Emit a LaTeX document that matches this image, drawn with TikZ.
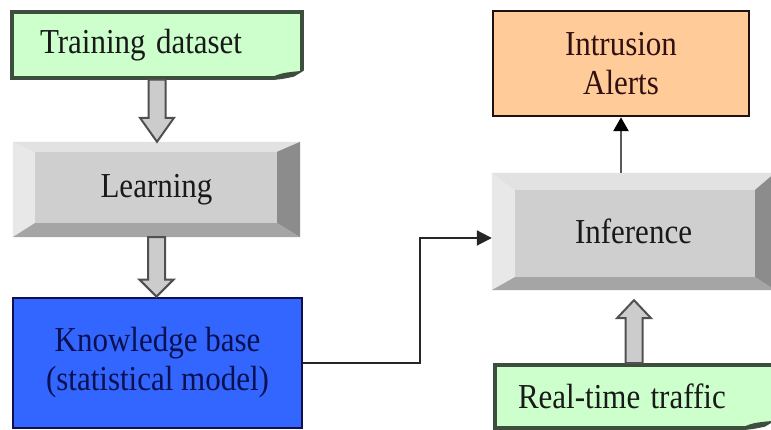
\documentclass[tikz,border=0pt]{standalone}
\usepackage{fontspec}
\usepackage{graphicx}
\setmainfont{Liberation Serif}
\usetikzlibrary{arrows.meta,calc}
\definecolor{docfill}{HTML}{CCFFCC}
\definecolor{docline}{HTML}{3E4E3E}
\definecolor{kbfill}{HTML}{3366FF}
\definecolor{kbline}{HTML}{101050}
\definecolor{kbtext}{HTML}{0A1050}
\definecolor{alfill}{HTML}{FFCC99}
\definecolor{alline}{HTML}{201010}
\definecolor{altext}{HTML}{301010}
\definecolor{face}{HTML}{CFCFCF}
\definecolor{bvtop}{HTML}{E2E2E2}
\definecolor{bvleft}{HTML}{E8E8E8}
\definecolor{bvright}{HTML}{8C8C8C}
\definecolor{bvbot}{HTML}{A5A5A5}
\definecolor{arrfill}{HTML}{CCCCCC}
\definecolor{arrline}{HTML}{505050}
\newcommand\tall[1]{\scalebox{1}[1.13]{#1}}
\newcommand\mybevel[5]{%
 \fill[bvtop] (#1.north west) -- (#1.north east) -- ($(#1.north east)+(-#3pt,-#4pt)$) -- ($(#1.north west)+(#2pt,-#4pt)$) -- cycle;
 \fill[bvleft] (#1.north west) -- (#1.south west) -- ($(#1.south west)+(#2pt,#5pt)$) -- ($(#1.north west)+(#2pt,-#4pt)$) -- cycle;
 \fill[bvright] (#1.north east) -- (#1.south east) -- ($(#1.south east)+(-#3pt,#5pt)$) -- ($(#1.north east)+(-#3pt,-#4pt)$) -- cycle;
 \fill[bvbot] (#1.south west) -- (#1.south east) -- ($(#1.south east)+(-#3pt,#5pt)$) -- ($(#1.south west)+(#2pt,#5pt)$) -- cycle;
}
\newcommand\blockarrow[3]{%
 \draw[blockarr] let \p1=(#1), \p2=(#2) in
  (\x1-8.5pt,\y1) -- (\x1-8.5pt,\y2+#3pt) -- (\x1-17pt,\y2+#3pt) -- (\x1,\y2)
  -- (\x1+17pt,\y2+#3pt) -- (\x1+8.5pt,\y2+#3pt) -- (\x1+8.5pt,\y1) -- cycle;
}
\newcommand\curl[1]{%
 \fill[white] ($(#1.south east)+(-38pt,-3pt)$) -- ($(#1.south east)+(3pt,-3pt)$) -- ($(#1.south east)+(3pt,10pt)$) -- cycle;
 \fill[docline] ($(#1.south east)+(-38pt,0pt)$) .. controls ($(#1.south east)+(-22pt,7pt)$) .. ($(#1.south east)+(0pt,9pt)$)
   -- ($(#1.south east)+(-10pt,3pt)$) .. controls ($(#1.south east)+(-25pt,0pt)$) .. ($(#1.south east)+(-38pt,0pt)$) -- cycle;
}
\begin{document}
\begin{tikzpicture}[x=1pt,y=1pt,
  txt/.style={font=\fontsize{31}{39}\selectfont},
  doc/.style={txt, fill=docfill, draw=docline, line width=3.5pt, align=left, inner ysep=0pt, text=black!90},
  bevelbox/.style={txt, fill=face, inner sep=0pt, text=black!90},
  kbbox/.style={txt, fill=kbfill, draw=kbline, line width=2.8pt, align=center, text=kbtext, inner sep=0pt},
  albox/.style={txt, fill=alfill, draw=alline, line width=2.5pt, align=center, text=altext, inner sep=0pt},
  blockarr/.style={fill=arrfill, draw=arrline, line width=2pt, line join=miter},
  conn/.style={draw=black!85, line width=2pt, -{Triangle[length=15pt,width=15pt]}},
  conn2/.style={draw=black!65, line width=2.8pt, -{Triangle[length=14pt,width=15pt,color=black]}}
  ]
\useasboundingbox[fill=white] (0,0) rectangle (771,430);

\node[doc, minimum height=66pt, inner xsep=28pt, text width=234pt] (train) at (157,385) {\tall{Training dataset}};
\curl{train}

\node[bevelbox, minimum width=287pt, minimum height=95pt] (learn) at (156.5,240.5) {};
\mybevel{learn}{22}{23}{10}{14}
\node[txt, text=black!90] (learntxt) at (learn.center) {\tall{Learning}};

\node[kbbox, minimum width=289pt, minimum height=130pt] (kb) at (157.5,67) {\tall{Knowledge base}\\\tall{(statistical model)}};

\node[albox, minimum width=256pt, minimum height=105pt] (alerts) at (621,366.5) {\tall{Intrusion}\\\tall{Alerts}};

\node[bevelbox, minimum width=283pt, minimum height=117pt] (infer) at (633.5,198.5) {};
\mybevel{infer}{23}{20}{17}{13}
\node[txt, text=black!90] (infertxt) at (infer.center) {\tall{Inference}};

\node[doc, minimum height=63pt, inner xsep=23pt, text width=232pt] (real) at (634,33.5) {\tall{Real-time traffic}};
\curl{real}

\blockarrow{train.south}{learn.north}{24}
\blockarrow{learn.south}{kb.north}{17}
\blockarrow{real.north}{$(infer.south)+(0,-10pt)$}{-18}

\coordinate (bend) at (420,192);
\draw[conn] (kb.east) -| (bend) -- (bend -| infer.west);
\draw[conn2] (infer.north -| alerts.south) -- (alerts.south);
\end{tikzpicture}
\end{document}
